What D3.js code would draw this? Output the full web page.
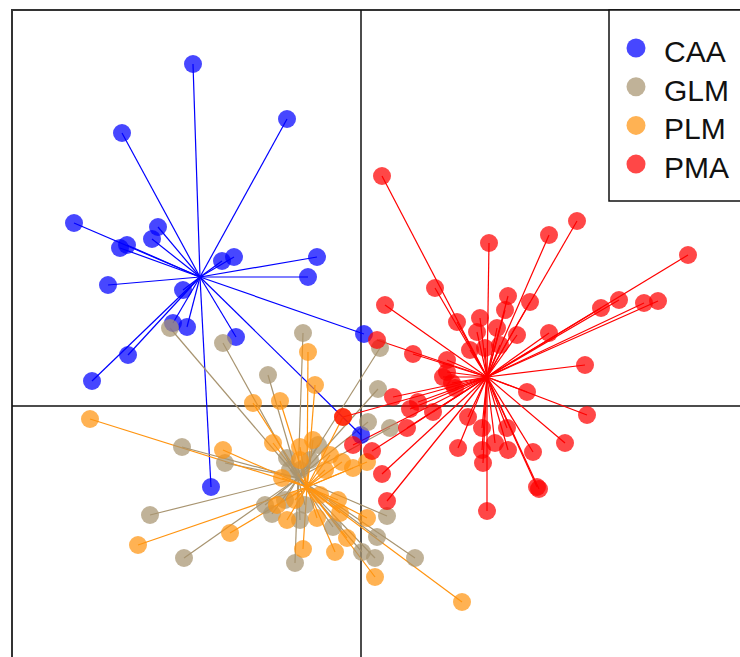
<!DOCTYPE html>
<html>
<head>
<meta charset="utf-8">
<script src="https://cdn.jsdelivr.net/npm/d3@7"></script>
<style>
html,body{margin:0;padding:0;background:#fff;overflow:hidden;}
svg{display:block;}
text{font-family:"Liberation Sans",Arial,sans-serif;}
</style>
</head>
<body>
<svg id="chart" width="740" height="657"></svg>
<script>
const groups = ["CAA", "GLM", "PLM", "PMA"];
const colors = ["#0000ff", "#a89470", "#ff9410", "#ff0000"];

const centroids = [[-1.61, 1.29], [-0.63, -0.72], [-0.54, -0.81], [1.26, 0.29]];

const caa = [[-1.68,3.42],[-2.39,2.73],[-0.74,2.87],[-2.87,1.83],[-2.03,1.79],[-2.09,1.67],[-2.34,1.61],[-2.41,1.58],
  [-1.39,1.45],[-1.27,1.49],[-0.44,1.49],[-0.53,1.29],[-2.53,1.21],[-1.78,1.16],[-1.88,0.83],[-1.74,0.79],
  [-1.25,0.69],[-2.33,0.51],[-2.69,0.25],[0.03,0.72],[-1.50,-0.81],[0.00,-0.29]];

const glm = [[-1.91,0.78],[-1.38,0.63],[-0.58,0.73],[-0.93,0.31],[0.19,0.58],[0.17,0.17],[0.07,-0.16],[0.29,-0.22],
  [-1.79,-0.41],[-1.36,-0.57],[-2.11,-1.09],[-1.77,-1.52],[-0.66,-1.57],[-0.61,-1.14],[-0.89,-1.08],[-0.28,-1.21],
  [0.16,-1.31],[0.01,-1.46],[0.14,-1.52],[0.54,-1.52],[0.26,-1.10],[-0.74,-0.52],[-0.43,-0.39],[-0.61,-0.64],[-0.96,-0.99],
  [-0.71,-0.64],[-0.51,-0.54],[-0.76,-0.94],[-0.56,-0.99]];

const plm = [[-2.71,-0.13],[-0.53,0.54],[-0.46,0.21],[-1.08,0.03],[-0.81,0.05],[-0.88,-0.37],[-1.38,-0.44],[-0.18,-0.11],
  [-0.19,-0.56],[-0.08,-0.62],[0.06,-0.56],[-2.23,-1.39],[-1.31,-1.27],[-0.58,-1.43],[-0.26,-1.46],[0.14,-1.71],
  [1.01,-1.96],[0.06,-1.12],[-0.14,-1.32],[-0.44,-1.12],[-0.74,-1.14],[-0.84,-0.99],[-0.21,-1.07],[-0.79,-0.72],
  [-0.61,-0.54],[-0.36,-0.64],[-0.61,-0.41],[-0.48,-0.34],[-0.31,-0.49],[-0.66,-0.94],[-0.41,-0.89],[-0.23,-0.94]];

const pma = [[0.21,2.30],[1.28,1.63],[1.88,1.71],[2.16,1.85],[3.27,1.51],[0.24,1.01],[0.74,1.18],[0.96,0.84],[1.19,0.88],
  [1.47,1.10],[1.44,0.96],[1.69,1.04],[1.16,0.74],[1.36,0.78],[1.56,0.71],[1.24,0.58],[1.88,0.73],[2.40,0.98],
  [2.58,1.06],[2.83,1.03],[2.97,1.05],[2.24,0.41],[0.52,0.52],[0.86,0.46],[0.82,0.29],[0.91,0.23],[0.16,0.66],
  [1.66,0.14],[2.26,-0.09],[2.04,-0.37],[0.32,0.09],[0.49,-0.03],[0.72,-0.06],[0.57,0.04],[0.46,-0.22],[1.07,-0.11],
  [1.21,-0.22],[1.46,-0.22],[0.97,-0.42],[1.21,-0.44],[1.34,-0.37],[1.47,-0.44],[1.72,-0.46],[1.22,-0.57],
  [1.76,-0.81],[1.78,-0.83],[1.26,-1.05],[0.21,-0.68],[0.26,-0.95],[0.11,-0.45],[-0.08,-0.39],[-0.18,-0.11],
  [0.86,0.34],[0.94,0.18],[1.09,0.56],[1.39,0.61]];

const seriesPoints = [caa, glm, plm, pma];

const svg = d3.select("#chart");
const x = d3.scaleLinear().domain([-3.49, 3.79]).range([12, 740]);
const y = d3.scaleLinear().domain([3.96, -2.51]).range([10, 657]);

// frame
svg.append("rect").attr("x", x(-3.49)).attr("y", y(3.96)).attr("width", 900).attr("height", 900)
  .attr("fill", "none").attr("stroke", "#333").attr("stroke-width", 2);

// axes through origin
svg.append("line").attr("x1", x(0)).attr("x2", x(0)).attr("y1", y(3.96)).attr("y2", 700)
  .attr("stroke", "#111").attr("stroke-width", 1.5);
svg.append("line").attr("x1", x(-3.49)).attr("x2", 800).attr("y1", y(0)).attr("y2", y(0))
  .attr("stroke", "#111").attr("stroke-width", 1.5);

// spider lines
groups.forEach((g, i) => {
  const c = centroids[i];
  svg.append("g").selectAll("line").data(seriesPoints[i]).join("line")
    .attr("x1", x(c[0])).attr("y1", y(c[1]))
    .attr("x2", d => x(d[0])).attr("y2", d => y(d[1]))
    .attr("stroke", colors[i]).attr("stroke-width", 1.2);
});

// points
groups.forEach((g, i) => {
  svg.append("g").selectAll("circle").data(seriesPoints[i]).join("circle")
    .attr("cx", d => x(d[0])).attr("cy", d => y(d[1])).attr("r", 9)
    .attr("fill", colors[i]).attr("fill-opacity", 0.72);
});

// legend
const lg = svg.append("g");
lg.append("rect").attr("x", 609).attr("y", 10).attr("width", 200).attr("height", 191)
  .attr("fill", "#fff").attr("stroke", "#111").attr("stroke-width", 1.5);
groups.forEach((g, i) => {
  const yy = 48 + i * 38.7;
  lg.append("circle").attr("cx", 636).attr("cy", yy).attr("r", 9.5)
    .attr("fill", colors[i]).attr("fill-opacity", 0.72);
  lg.append("text").attr("x", 664).attr("y", yy + 14)
    .attr("font-size", 30).attr("fill", "#111").text(g);
});
</script>
</body>
</html>
